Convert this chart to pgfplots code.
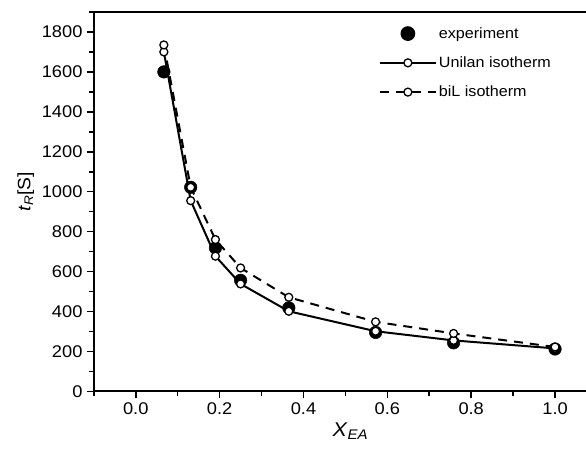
\documentclass[border=0pt]{standalone}
\usepackage{fontspec}
\setmainfont{Liberation Sans}[FakeStretch=1.08]
\usepackage{pgfplots}
\pgfplotsset{compat=1.18}

\begin{document}
\begin{tikzpicture}
\begin{axis}[
    name=ax,
    scale only axis,
    width=504bp, height=380bp,
    xmin=-0.1, xmax=1.1, ymin=0, ymax=1900,
    line width=2.2bp,
    xtick={0,0.2,...,1.0},
    minor xtick={-0.1,0.1,0.3,0.5,0.7,0.9},
    ytick={0,200,...,1800},
    minor ytick={100,300,...,1900},
    tick align=outside, xtick pos=bottom, ytick pos=left,
    major tick length=7bp, minor tick length=4.5bp,
    every tick/.style={black, line width=1.6bp},
    /pgf/number format/assume math mode=true,
    xticklabel style={/pgf/number format/.cd, fixed, fixed zerofill, precision=1},
    yticklabel style={/pgf/number format/1000 sep={}},
    tick label style={font=\fontsize{17}{20}\selectfont},
    xlabel={\textit{X}\textsubscript{\textit{EA}}},
    ylabel={\textit{t}\textsubscript{\textit{R}}[S]},
    xlabel style={at={(ticklabel cs:0.51)}, font=\fontsize{20}{24}\selectfont},
    ylabel style={at={(ticklabel cs:0.526)}, font=\fontsize{18}{21}\selectfont},
    legend style={draw=none, fill=none, at={(axis cs:0.57,1848)}, anchor=north west,
      font=\fontsize{15}{18}\selectfont, row sep=13bp},
    legend cell align=left,
    legend image code/.code={\draw[mark repeat=2,mark phase=2,#1] plot coordinates {(0bp,0bp) (28bp,0bp) (56bp,0bp)};},
]
% experiment
\addplot[only marks, mark=*, mark size=6.3pt, mark options={fill=black, line width=0.5bp},
  legend image code/.code={\path (0bp,0bp) (56bp,0bp); \fill[black] (28bp,0bp) circle (6.3pt);}]
  coordinates {(0.067,1600) (0.131,1022) (0.19,718) (0.25,556) (0.365,418) (0.572,295) (0.758,243) (1.0,212)};
% Unilan isotherm
\addplot[black, line width=2bp, mark=*, mark size=4pt, mark options={fill=white, line width=1.3bp, solid}]
  coordinates {(0.067,1700) (0.131,955) (0.19,677) (0.25,538) (0.365,401) (0.572,301) (0.758,255) (1.0,215)};
% biL isotherm
\addplot[black, line width=2bp, dash pattern=on 9bp off 7bp, mark=*, mark size=4pt, mark options={fill=white, line width=1.3bp, solid}]
  coordinates {(0.067,1735) (0.131,1022) (0.19,760) (0.25,618) (0.365,471) (0.572,348) (0.758,290) (1.0,222)};
\legend{experiment, Unilan isotherm, biL isotherm}
\end{axis}
\pgfresetboundingbox
\path[use as bounding box] (ax.south west) ++(-94bp,-57bp) rectangle ([xshift=493bp,yshift=12bp]ax.north west);
\end{tikzpicture}
\end{document}
